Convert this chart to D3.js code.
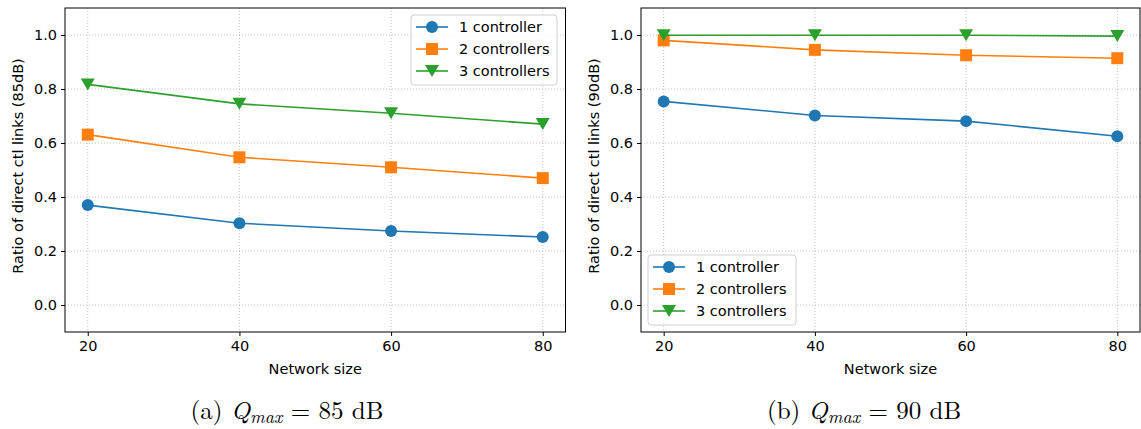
<!DOCTYPE html>
<html>
<head>
<meta charset="utf-8">
<script src="https://cdn.jsdelivr.net/npm/d3@7"></script>
<style>
  body { margin: 0; background: #fff; }
  svg text { font-family: "DejaVu Sans", sans-serif; fill: #000; }
  .caption { font-family: "Latin Modern Roman", "DejaVu Serif", "Liberation Serif", serif; font-size: 25px; }
</style>
</head>
<body>
<div id="chart"></div>
<script>
// data
const sizes = [20, 40, 60, 80];
const seriesNames = ["1 controller", "2 controllers", "3 controllers"];
const colors = ["#1f77b4", "#ff7f0e", "#2ca02c"];
const markers = ["circle", "square", "triangle"];

const ratio85 = [
    [0.370, 0.303, 0.274, 0.252],
    [0.631, 0.547, 0.510, 0.470],
    [0.817, 0.745, 0.710, 0.670]
];
const ratio90 = [
    [0.754, 0.702, 0.681, 0.625],
    [0.980, 0.945, 0.925, 0.914],
    [0.999, 0.999, 0.999, 0.996]
];
const yTicks = [0.0, 0.2, 0.4, 0.6, 0.8, 1.0];

const width = 1141, height = 429;
const fs = 14.5;
const svg = d3.select("#chart").append("svg")
    .attr("width", width).attr("height", height);

function drawMarker(g, type, color, x, y) {
    if (type === "circle") {
        g.append("circle").attr("cx", x).attr("cy", y).attr("r", 6).attr("fill", color);
    } else if (type === "square") {
        g.append("rect").attr("x", x - 6).attr("y", y - 6).attr("width", 12).attr("height", 12).attr("fill", color);
    } else {
        g.append("path").attr("d", `M${x - 7},${y - 6}L${x + 7},${y - 6}L${x},${y + 6}Z`).attr("fill", color);
    }
}

function panel(opts) {
    const {left, right, top, bottom, data, ylabel, caption, capX, legend} = opts;
    const x = d3.scaleLinear().domain([17, 83]).range([left, right]);
    const y = d3.scaleLinear().domain([-0.1, 1.1]).range([bottom, top]);
    const g = svg.append("g");

    // grid
    g.selectAll(".gx").data(sizes).enter().append("line")
        .attr("x1", d => x(d)).attr("x2", d => x(d))
        .attr("y1", top).attr("y2", bottom)
        .attr("stroke", "#b0b0b0").attr("stroke-width", 0.8).attr("stroke-dasharray", "1,2");
    g.selectAll(".gy").data(yTicks).enter().append("line")
        .attr("x1", left).attr("x2", right)
        .attr("y1", d => y(d)).attr("y2", d => y(d))
        .attr("stroke", "#b0b0b0").attr("stroke-width", 0.8).attr("stroke-dasharray", "1,2");

    // axes
    const xa = g.append("g").attr("transform", `translate(0,${bottom})`)
        .call(d3.axisBottom(x).tickValues(sizes).tickSize(4).tickPadding(5));
    const ya = g.append("g").attr("transform", `translate(${left},0)`)
        .call(d3.axisLeft(y).tickValues(yTicks).tickFormat(d3.format(".1f")).tickSize(4).tickPadding(4));
    [xa, ya].forEach(a => {
        a.select(".domain").remove();
        a.selectAll("text").attr("font-size", fs).attr("fill", "#000");
        a.selectAll("line").attr("stroke", "#000").attr("stroke-width", 1);
    });

    // lines + markers
    const line = d3.line().x((d, i) => x(sizes[i])).y(d => y(d));
    data.forEach((s, k) => {
        g.append("path").datum(s).attr("d", line)
            .attr("fill", "none").attr("stroke", colors[k]).attr("stroke-width", 1.6);
        s.forEach((v, i) => drawMarker(g, markers[k], colors[k], x(sizes[i]), y(v)));
    });

    // frame
    g.append("rect").attr("x", left).attr("y", top)
        .attr("width", right - left).attr("height", bottom - top)
        .attr("fill", "none").attr("stroke", "#000").attr("stroke-width", 1);

    // labels
    g.append("text").attr("x", (left + right) / 2).attr("y", 374)
        .attr("text-anchor", "middle").attr("font-size", fs).text("Network size");
    g.append("text").attr("transform", "rotate(-90)")
        .attr("x", -(top + bottom) / 2 + 4).attr("y", left - 42)
        .attr("text-anchor", "middle").attr("font-size", fs).text(ylabel);

    // legend
    const lg = g.append("g");
    lg.append("rect").attr("x", legend.x).attr("y", legend.y)
        .attr("width", legend.w).attr("height", 70).attr("rx", 3)
        .attr("fill", "#fff").attr("fill-opacity", 0.8)
        .attr("stroke", "#d0d0d0").attr("stroke-width", 1);
    seriesNames.forEach((n, k) => {
        const ry = legend.y + 12 + k * 22;
        lg.append("line").attr("x1", legend.x + 5).attr("x2", legend.x + 37)
            .attr("y1", ry).attr("y2", ry).attr("stroke", colors[k]).attr("stroke-width", 1.6);
        drawMarker(lg, markers[k], colors[k], legend.x + 21, ry);
        lg.append("text").attr("x", legend.x + 48).attr("y", ry + 5)
            .attr("font-size", fs).text(n);
    });

    // caption
    const cap = svg.append("text").attr("class", "caption")
        .attr("x", capX).attr("y", 419).attr("text-anchor", "middle");
    cap.append("tspan").text(caption[0] + " ");
    cap.append("tspan").attr("font-style", "italic").text("Q");
    cap.append("tspan").attr("font-style", "italic").attr("font-size", 18).attr("dy", 4).text("max");
    cap.append("tspan").attr("dy", -4).text(" = " + caption[1] + " dB");
}

panel({left: 65, right: 565.5, top: 8, bottom: 332, data: ratio85,
    ylabel: "Ratio of direct ctl links (85dB)", caption: ["(a)", "85"], capX: 287,
    legend: {x: 411, y: 15, w: 146}});
panel({left: 641, right: 1140, top: 8, bottom: 332, data: ratio90,
    ylabel: "Ratio of direct ctl links (90dB)", caption: ["(b)", "90"], capX: 864,
    legend: {x: 648, y: 255, w: 148}});
</script>
</body>
</html>
